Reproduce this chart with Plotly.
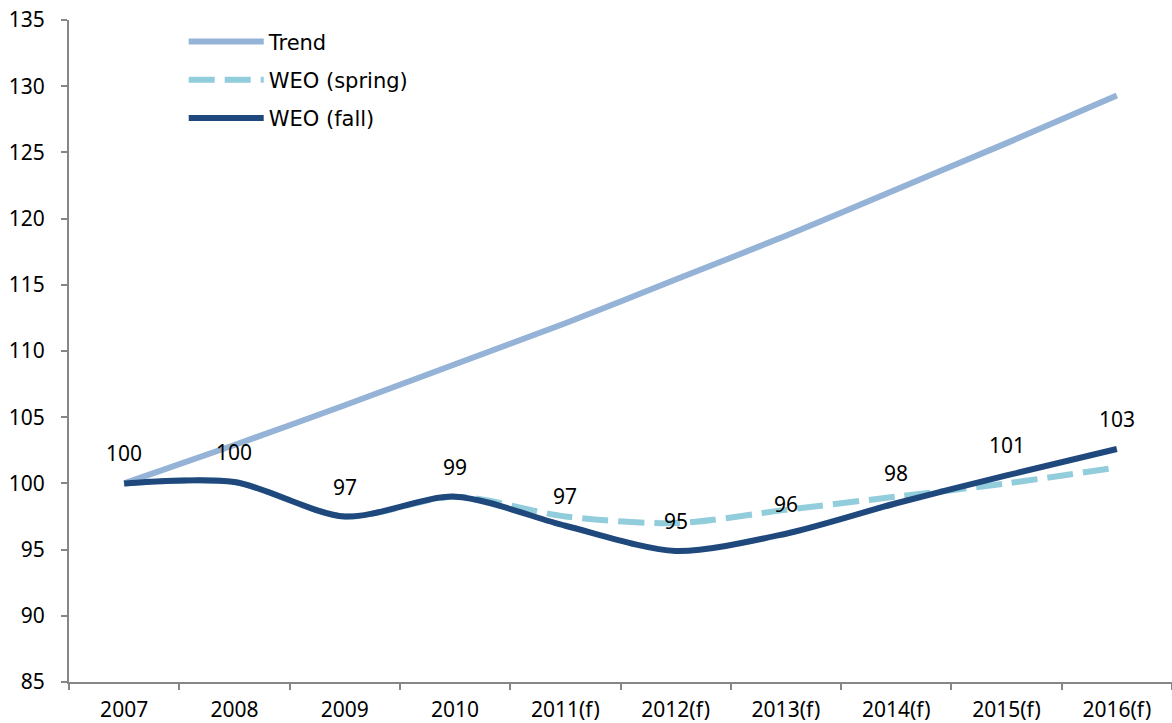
import plotly.graph_objects as go

years = ["2007", "2008", "2009", "2010", "2011(f)", "2012(f)", "2013(f)", "2014(f)", "2015(f)", "2016(f)"]
trend = [100.0, 102.9, 105.9, 109.0, 112.1, 115.4, 118.7, 122.2, 125.7, 129.3]
weo_spring = [100.0, 100.1, 97.5, 99.0, 97.5, 97.0, 98.0, 99.0, 100.0, 101.2]
weo_fall = [100.0, 100.1, 97.5, 99.0, 96.8, 94.9, 96.2, 98.5, 100.6, 102.6]
fall_labels = ["100", "100", "97", "99", "97", "95", "96", "98", "101", "103"]

tick_font = dict(family="Noto Sans, Open Sans, sans-serif", size=21, color="#000000")

fig = go.Figure()
fig.add_trace(go.Scatter(x=years, y=trend, name="Trend", mode="lines",
                         line=dict(color="#95B3D7", width=6, shape="spline", smoothing=0.6),
                         legendgroup="a"))
fig.add_trace(go.Scatter(x=years, y=weo_spring, name="WEO (spring)", mode="lines",
                         line=dict(color="#92CDDC", width=6, dash="26px,10px", shape="spline", smoothing=0.8),
                         legendgroup="b"))
fig.add_trace(go.Scatter(x=years, y=weo_fall, name="WEO (fall)", mode="lines",
                         line=dict(color="#1F497D", width=6, shape="spline", smoothing=0.8),
                         legendgroup="c"))

for i, (y, t) in enumerate(zip(weo_fall, fall_labels)):
    fig.add_annotation(x=i, y=y, xref="x", yref="y", text=t, showarrow=False, yshift=30,
                       font=tick_font)

fig.update_layout(
    width=1172, height=723,
    margin=dict(l=69, r=0, t=20, b=41),
    paper_bgcolor="white", plot_bgcolor="white",
    showlegend=True,
    legend=dict(x=0.104, y=0.998, xanchor="left", yanchor="top",
                font=dict(family="DejaVu Sans, Verdana", size=21, color="#000000"),
                bgcolor="rgba(0,0,0,0)", traceorder="grouped", tracegroupgap=8,
                itemwidth=75),
)
fig.update_xaxes(type="category", range=[-0.5, 9.5], showgrid=False, showline=True,
                 linecolor="#868686", linewidth=2, ticks="outside", tickson="boundaries",
                 ticklen=6, tickcolor="#868686", tickwidth=2, tickfont=tick_font,
                 ticklabelstandoff=8, ticklabeloverflow="allow", automargin=False)
fig.update_yaxes(range=[85, 135], dtick=5, tick0=85,
                 showgrid=False, showline=True,
                 linecolor="#868686", linewidth=2, ticks="outside", ticklen=6,
                 tickcolor="#868686", tickwidth=2, tickfont=tick_font, zeroline=False,
                 ticklabelstandoff=12, ticklabeloverflow="allow", automargin=False)

fig.write_html("out.html", config={"displayModeBar": False},
               post_script="document.body.style.margin='0';")
